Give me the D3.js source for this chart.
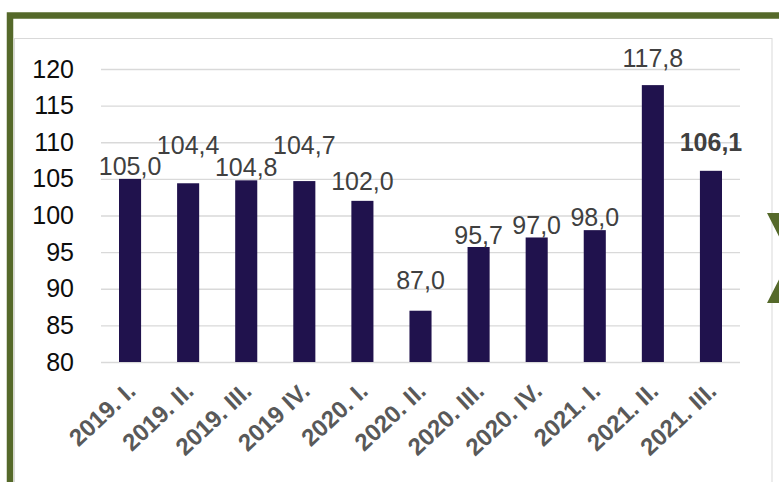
<!DOCTYPE html>
<html>
<head>
<meta charset="utf-8">
<script src="https://cdn.jsdelivr.net/npm/d3@7"></script>
<style>
  html, body { margin: 0; padding: 0; background: #fff; }
  #chart { width: 779px; height: 482px; overflow: hidden; }
</style>
</head>
<body>
<div id="chart"></div>
<script>
"use strict";

const quarters = ["2019. I.", "2019. II.", "2019. III.", "2019 IV.", "2020. I.", "2020. II.",
  "2020. III.", "2020. IV.", "2021. I.", "2021. II.", "2021. III."];
const values = [105.0, 104.4, 104.8, 104.7, 102.0, 87.0, 95.7, 97.0, 98.0, 117.8, 106.1];
const yTicks = [80, 85, 90, 95, 100, 105, 110, 115, 120];

// how far each value label sits above its bar (hand placed in the original)
const labelLift = [4, 29, 4, 27, 11, 22, 3, 3, 4, 18, 20];

const W = 779, H = 482;
const plot = { left: 101, right: 740, top: 69, bottom: 362 };
const fmt = v => v.toFixed(1).replace(".", ",");

draw();

function draw() {
  const svg = d3.select("#chart")
    .append("svg")
    .attr("width", W)
    .attr("height", H);

  // inner chart box
  svg.append("rect")
    .attr("x", 14.5).attr("y", 38.5)
    .attr("width", 772 - 14.5).attr("height", H)
    .attr("fill", "#fff")
    .attr("stroke", "#d9d9d9");

  // green frame
  svg.append("rect")
    .attr("x", 10).attr("y", 15.5)
    .attr("width", W + 20).attr("height", H + 20)
    .attr("fill", "none")
    .attr("stroke", "#55692a")
    .attr("stroke-width", 6.5);

  const x = d3.scaleBand()
    .domain(quarters)
    .range([plot.left, plot.right])
    .paddingInner(0.62)
    .paddingOuter(0.31);

  const y = d3.scaleLinear()
    .domain([80, 120])
    .range([plot.bottom, plot.top]);

  const yAxis = svg.append("g")
    .attr("transform", `translate(${plot.left},0)`)
    .call(d3.axisLeft(y)
      .tickValues(yTicks)
      .tickSize(-(plot.right - plot.left))
      .tickPadding(27));
  yAxis.select(".domain").remove();
  yAxis.selectAll("line").attr("stroke", "#d9d9d9").attr("stroke-width", 1.3);
  yAxis.selectAll("text")
    .attr("fill", "#0d0d0d")
    .style("font", "25px 'Liberation Sans', Arial, sans-serif");

  svg.selectAll("rect.bar")
    .data(values)
    .enter()
    .append("rect")
    .attr("class", "bar")
    .attr("x", (d, i) => x(quarters[i]))
    .attr("width", x.bandwidth())
    .attr("y", d => y(d))
    .attr("height", d => y(80) - y(d))
    .attr("fill", "#20124d");

  svg.selectAll("text.val")
    .data(values)
    .enter()
    .append("text")
    .attr("class", "val")
    .attr("x", (d, i) => x(quarters[i]) + x.bandwidth() / 2)
    .attr("y", (d, i) => y(d) - labelLift[i])
    .attr("text-anchor", "middle")
    .attr("fill", "#404040")
    .style("font-family", "'Liberation Sans', Arial, sans-serif")
    .style("font-size", "25px")
    .style("font-weight", (d, i) => i === values.length - 1 ? "bold" : "normal")
    .text(fmt);

  const xAxis = svg.append("g")
    .attr("transform", `translate(0,${plot.bottom})`)
    .call(d3.axisBottom(x).tickSize(0).tickPadding(0));
  xAxis.select(".domain").remove();
  xAxis.selectAll("text")
    .attr("fill", "#595959")
    .attr("text-anchor", "end")
    .attr("dy", 0)
    .attr("y", 0)
    .attr("transform", "translate(7,31) rotate(-43)")
    .style("font", "bold 24px 'Liberation Sans', Arial, sans-serif");

  // green chevron peeking in at the right edge
  svg.append("polygon")
    .attr("points", [[767, 213], [800, 213], [800, 303], [767, 303], [790, 258]].join(" "))
    .attr("fill", "#55692a");
}
</script>
</body>
</html>
